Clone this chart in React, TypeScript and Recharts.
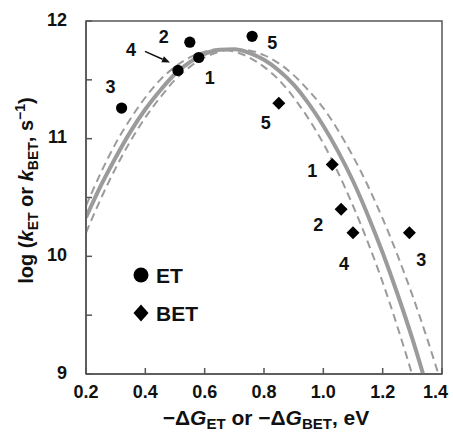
import React from "react";
import {
  ComposedChart,
  Line,
  Scatter,
  XAxis,
  YAxis,
  ReferenceArea,
  Legend,
} from "recharts";

// Marcus curves at each -ΔG (eV)
const curveX = [
  0.2, 0.25, 0.3, 0.35, 0.4, 0.45, 0.5, 0.55, 0.6, 0.65, 0.7, 0.75, 0.8, 0.85,
  0.9, 0.95, 1.0, 1.05, 1.1, 1.15, 1.2, 1.25, 1.3, 1.35, 1.4,
];
const fitY = [
  10.33, 10.6, 10.84, 11.06, 11.25, 11.41, 11.55, 11.65, 11.72, 11.755, 11.76,
  11.73, 11.67, 11.58, 11.46, 11.3, 11.11, 10.89, 10.64, 10.35, 10.03, 9.68,
  9.3, 8.88, 8.43,
];
const lowLambdaY = [
  10.43, 10.71, 10.96, 11.17, 11.35, 11.5, 11.61, 11.69, 11.74, 11.76, 11.74,
  11.69, 11.61, 11.5, 11.35, 11.17, 10.96, 10.71, 10.43, 10.12, 9.78, 9.4,
  8.99, 8.55, 8.08,
];
const highLambdaY = [
  10.2, 10.49, 10.75, 10.98, 11.18, 11.35, 11.5, 11.61, 11.69, 11.74, 11.76,
  11.75, 11.71, 11.64, 11.54, 11.41, 11.26, 11.07, 10.85, 10.6, 10.32, 10.01,
  9.67, 9.3, 8.9,
];

// measured points
const etX = [0.32, 0.51, 0.55, 0.58, 0.76];
const etY = [11.26, 11.58, 11.82, 11.69, 11.87];
const etLabels = ["3", "4", "2", "1", "5"];

const betX = [0.85, 1.03, 1.06, 1.1, 1.29];
const betY = [11.3, 10.78, 10.4, 10.2, 10.2];
const betLabels = ["5", "1", "2", "4", "3"];

const seriesNames = ["ET", "BET"];
const xTicks = [0.2, 0.4, 0.6, 0.8, 1.0, 1.2, 1.4];
const yTicks = [9, 9.5, 10, 10.5, 11, 11.5, 12];

// label placement relative to its marker (px)
const etLabelPos: Record<string, [number, number]> = {
  "3": [-11, -22],
  "4": [-47, -21],
  "2": [-26, -6],
  "1": [11, 20],
  "5": [20, 6],
};
const betLabelPos: Record<string, [number, number]> = {
  "5": [-13, 19],
  "1": [-20, 6],
  "2": [-23, 15],
  "4": [-9, 31],
  "3": [12, 27],
};

const fitData = curveX.map((x, i) => ({ x, y: fitY[i] }));
const lowData = curveX.map((x, i) => ({ x, y: lowLambdaY[i] }));
const highData = curveX.map((x, i) => ({ x, y: highLambdaY[i] }));
const etData = etX.map((x, i) => ({ x, y: etY[i], label: etLabels[i] }));
const betData = betX.map((x, i) => ({ x, y: betY[i], label: betLabels[i] }));

const FONT = '"Liberation Sans", Arial, Helvetica, sans-serif';
const AXIS = "#555";
const CURVE = "#9b9b9b";

const YTick = (props: any) => {
  const { x, y, payload } = props;
  const v = payload.value;
  const isInt = Math.abs(v - Math.round(v)) < 1e-6;
  return (
    <g>
      <line x1={x} y1={y} x2={x + 6} y2={y} stroke={AXIS} strokeWidth={1.5} />
      {isInt && (
        <text
          x={x - 19}
          y={y + 4.5}
          textAnchor="end"
          fontFamily={FONT}
          fontWeight="bold"
          fontSize={18}
          fill="#111"
        >
          {v}
        </text>
      )}
    </g>
  );
};

const XTick = (props: any) => {
  const { x, y, payload } = props;
  const last = payload.value >= 1.4;
  return (
    <g>
      <line x1={x} y1={y} x2={x} y2={y - 6} stroke={AXIS} strokeWidth={1.5} />
      <text
        x={last ? x + 6 : x}
        y={y + 24}
        textAnchor={last ? "end" : "middle"}
        fontFamily={FONT}
        fontWeight="bold"
        fontSize={18}
        fill="#111"
      >
        {Number(payload.value).toFixed(1)}
      </text>
    </g>
  );
};

const XTitle = (props: any) => {
  const vb = props.viewBox || { x: 86, y: 374, width: 356 };
  return (
    <text
      x={vb.x + vb.width / 2 + 2}
      y={vb.y + 51}
      textAnchor="middle"
      fontFamily={FONT}
      fontWeight="bold"
      fontSize={21}
      fill="#111"
    >
      −Δ<tspan fontStyle="italic">G</tspan>
      <tspan fontSize={15} dy={4}>ET</tspan>
      <tspan dy={-4}> or −Δ</tspan>
      <tspan fontStyle="italic">G</tspan>
      <tspan fontSize={15} dy={4}>BET</tspan>
      <tspan dy={-4}>, eV</tspan>
    </text>
  );
};

const YTitle = (props: any) => {
  const vb = props.viewBox || { x: 0, y: 21, height: 353 };
  const cy = vb.y + vb.height / 2 - 7;
  return (
    <text
      transform={`translate(33, ${cy}) rotate(-90)`}
      textAnchor="middle"
      fontFamily={FONT}
      fontWeight="bold"
      fontSize={20}
      fill="#111"
    >
      log (<tspan fontStyle="italic">k</tspan>
      <tspan fontSize={14} dy={5}>ET</tspan>
      <tspan dy={-5}> or </tspan>
      <tspan fontStyle="italic">k</tspan>
      <tspan fontSize={14} dy={5}>BET</tspan>
      <tspan dy={-5}>, s</tspan>
      <tspan fontSize={14} dy={-8}>−1</tspan>
      <tspan dy={8}>)</tspan>
    </text>
  );
};

const pointLabel = (cx: number, cy: number, text: string, pos: [number, number]) => (
  <text
    x={cx + pos[0]}
    y={cy + pos[1] + 6.5}
    textAnchor="middle"
    fontFamily={FONT}
    fontWeight="bold"
    fontSize={18}
    fill="#111"
  >
    {text}
  </text>
);

const EtDot = (props: any) => {
  const { cx, cy, payload } = props;
  const label = payload?.label;
  const pos = etLabelPos[label] || [0, -15];
  // pointer arrow for point 4
  const ax1 = cx - 33;
  const ay1 = cy - 19;
  const ax2 = cx - 8;
  const ay2 = cy - 8;
  const len = Math.hypot(ax2 - ax1, ay2 - ay1);
  const ux = (ax2 - ax1) / len;
  const uy = (ay2 - ay1) / len;
  const bx = ax2 - ux * 8;
  const by = ay2 - uy * 8;
  return (
    <g>
      <circle cx={cx} cy={cy} r={5.6} fill="#000" />
      {pointLabel(cx, cy, label, pos)}
      {label === "4" && (
        <g>
          <line x1={ax1} y1={ay1} x2={bx} y2={by} stroke="#111" strokeWidth={1.5} />
          <polygon
            points={`${ax2},${ay2} ${bx - uy * 3.2},${by + ux * 3.2} ${bx + uy * 3.2},${by - ux * 3.2}`}
            fill="#111"
          />
        </g>
      )}
    </g>
  );
};

const BetDot = (props: any) => {
  const { cx, cy, payload } = props;
  const label = payload?.label;
  const pos = betLabelPos[label] || [0, 15];
  const h = 6.5;
  return (
    <g>
      <polygon
        points={`${cx},${cy - h} ${cx + h},${cy} ${cx},${cy + h} ${cx - h},${cy}`}
        fill="#000"
      />
      {pointLabel(cx, cy, label, pos)}
    </g>
  );
};

const LegendBox = (props: any) => {
  const items = (props.payload || [])
    .filter((p: any) => seriesNames.includes(p.value))
    .sort((a: any, b: any) => seriesNames.indexOf(a.value) - seriesNames.indexOf(b.value));
  return (
    <svg width={90} height={75} style={{ display: "block" }}>
      {items.map((p: any, i: number) => {
        const cy = 17 + i * 38;
        return (
          <g key={p.value}>
            {p.type === "circle" ? (
              <circle cx={11} cy={cy} r={7.5} fill="#000" />
            ) : (
              <polygon
                points={`11,${cy - 8.5} 18.5,${cy} 11,${cy + 8.5} 3.5,${cy}`}
                fill="#000"
              />
            )}
            <text
              x={26}
              y={cy + 7.5}
              fontFamily={FONT}
              fontWeight="bold"
              fontSize={21}
              fill="#111"
            >
              {p.value}
            </text>
          </g>
        );
      })}
    </svg>
  );
};

export default function App() {
  return (
    <div style={{ position: "absolute", left: 0, top: 0, background: "#fff" }}>
      <ComposedChart
        width={453}
        height={434}
        margin={{ top: 21, right: 11, bottom: 0, left: 0 }}
      >
        <XAxis
          dataKey="x"
          type="number"
          domain={[0.2, 1.4]}
          ticks={xTicks}
          interval={0}
          allowDataOverflow
          height={60}
          tickSize={0}
          tickMargin={0}
          tickLine={false}
          tick={<XTick />}
          axisLine={{ stroke: AXIS, strokeWidth: 1.5 }}
          label={XTitle}
        />
        <YAxis
          type="number"
          domain={[9, 12]}
          ticks={yTicks}
          interval={0}
          allowDataOverflow
          width={86}
          tickSize={0}
          tickMargin={0}
          tickLine={false}
          tick={<YTick />}
          axisLine={{ stroke: AXIS, strokeWidth: 1.5 }}
          label={YTitle}
        />
        <ReferenceArea
          x1={0.2}
          x2={1.4}
          y1={9}
          y2={12}
          fill="none"
          stroke={AXIS}
          strokeWidth={1.5}
        />
        <Line
          data={lowData}
          dataKey="y"
          type="monotone"
          stroke={CURVE}
          strokeWidth={2}
          strokeDasharray="8 5"
          dot={false}
          activeDot={false}
          legendType="none"
          isAnimationActive={false}
        />
        <Line
          data={highData}
          dataKey="y"
          type="monotone"
          stroke={CURVE}
          strokeWidth={2}
          strokeDasharray="8 5"
          dot={false}
          activeDot={false}
          legendType="none"
          isAnimationActive={false}
        />
        <Line
          data={fitData}
          dataKey="y"
          type="monotone"
          stroke={CURVE}
          strokeWidth={4}
          dot={false}
          activeDot={false}
          legendType="none"
          isAnimationActive={false}
        />
        <Scatter
          name="ET"
          data={etData}
          dataKey="y"
          legendType="circle"
          fill="#000"
          shape={<EtDot />}
          isAnimationActive={false}
        />
        <Scatter
          name="BET"
          data={betData}
          dataKey="y"
          legendType="diamond"
          fill="#000"
          shape={<BetDot />}
          isAnimationActive={false}
        />
        <Legend
          layout="vertical"
          align="center"
          verticalAlign="middle"
          content={<LegendBox />}
          wrapperStyle={{ left: 130, top: 258, width: 90, height: 75 }}
        />
      </ComposedChart>
    </div>
  );
}
